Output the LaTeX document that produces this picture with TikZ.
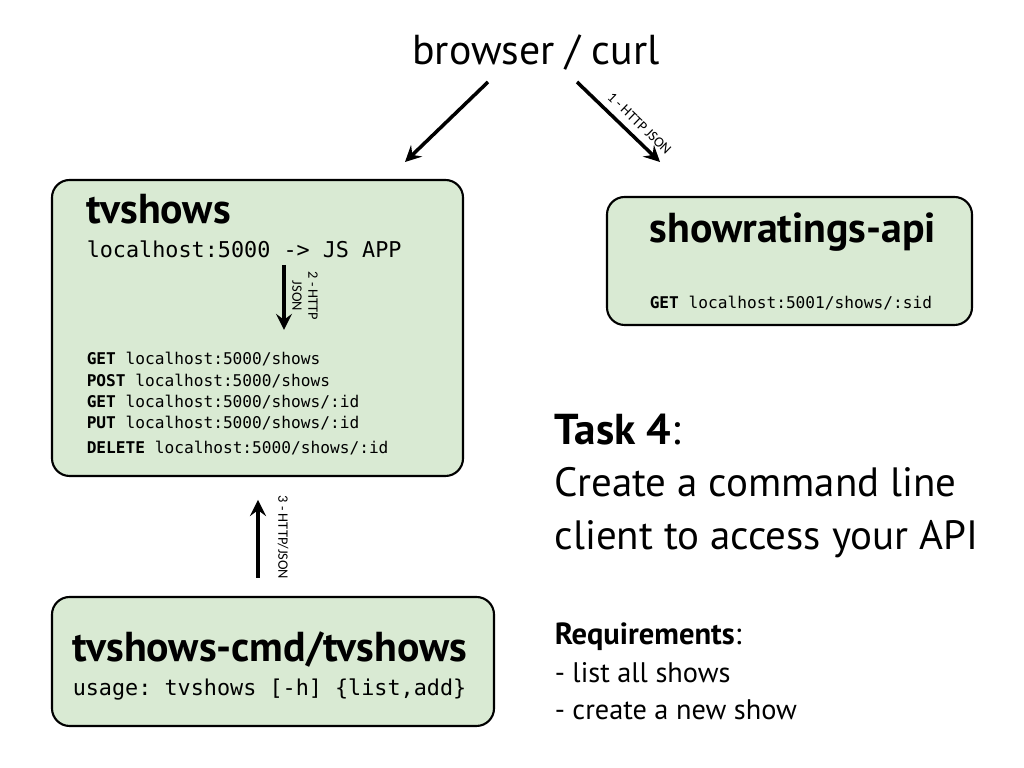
\documentclass[tikz,border=0pt]{standalone}
\usepackage{fontspec}
\setmainfont{PT Sans}
\setmonofont{DejaVu Sans Mono}
\newfontfamily\labelfont{Carlito}
\usetikzlibrary{positioning}
\definecolor{boxgreen}{HTML}{D9EAD3}

\begin{document}
\begin{tikzpicture}[>=stealth,line width=1pt,
  service/.style={draw=black,line width=0.6pt,fill=boxgreen,rounded corners=5pt,inner sep=0pt},
  title/.style={anchor=base west,inner sep=0pt,font={\fontsize{11.9}{13}\selectfont\bfseries}},
  cmd/.style={anchor=base west,inner sep=0pt,font={\fontsize{6.2}{7}\selectfont\ttfamily}},
  route/.style={anchor=base west,inner sep=0pt,font={\fontsize{4.6}{5.5}\selectfont\ttfamily}},
  flow/.style={->,line width=1pt},
  flowlabel/.style={inner sep=0pt,font={\fontsize{4.1}{4.6}\selectfont\labelfont},align=center},
  task/.style={anchor=base west,inner sep=0pt,font={\fontsize{11.65}{13}\selectfont}},
  req/.style={anchor=base west,inner sep=0pt,font={\fontsize{8.05}{10}\selectfont}}]
\useasboundingbox (0,0) rectangle (10.24,7.68);

% client
\node[anchor=base,inner sep=0pt,font={\fontsize{11.9}{13}\selectfont}] (browser) at (5.36,7.03) {browser / curl};

% services
\draw[service] (0.52,2.92) rectangle (4.63,5.88);
\node (tvshows) at (2.575,4.40) {};
\draw[service] (6.07,4.43) rectangle (9.72,5.71);
\node (ratings) at (7.895,5.07) {};
\draw[service] (0.52,0.42) rectangle (4.94,1.71);
\node (tvcmd) at (2.73,1.065) {};

% tvshows
\node[title] (tvtitle) at (0.85,5.44) {tvshows};
\node[cmd] (tvapp) at (0.85,5.10) {localhost:5000 -> JS APP};
\node[route] (r1) at (0.85,4.03) {\textbf{GET} localhost:5000/shows};
\node[route] (r2) at (0.85,3.81) {\textbf{POST} localhost:5000/shows};
\node[route] (r3) at (0.85,3.60) {\textbf{GET} localhost:5000/shows/:id};
\node[route] (r4) at (0.85,3.39) {\textbf{PUT} localhost:5000/shows/:id};
\node[route] (r5) at (0.85,3.14) {\textbf{DELETE} localhost:5000/shows/:id};

% showratings-api
\node[title] (ratingstitle) at (6.48,5.25) {showratings-api};
\node[route] (r6) at (6.48,4.59) {\textbf{GET} localhost:5001/shows/:sid};

% tvshows-cmd
\node[title] (cmdtitle) at (0.71,1.06) {tvshows-cmd/tvshows};
\node[cmd] (usage) at (0.71,0.72) {usage: tvshows [-h] \{list,add\}};

% arrows
\coordinate (a1s) at (4.88,6.86);
\coordinate (a1e) at (4.05,6.06);
\coordinate (a2s) at (5.77,6.86);
\coordinate (a2e) at (6.60,6.06);
\coordinate (a3s) at (2.84,5.03);
\coordinate (a3e) at (2.84,4.38);
\coordinate (a4s) at (2.58,1.90);
\coordinate (a4e) at (2.58,2.68);
\draw[flow] (a1s) -- (a1e);
\draw[flow] (a2s) -- node[flowlabel,sloped,above=2pt,pos=0.64] {1 - HTTP JSON} (a2e);
\draw[flow] (a3s) -- (a3e);
\node[flowlabel,rotate=-90] (l2) at (3.05,4.72) {2 - HTTP\\JSON};
\draw[flow] (a4s) -- (a4e);
\node[flowlabel,rotate=-90] (l3) at (2.83,2.305) {3 - HTTP/JSON};

% task text
\node[task] (task) at (5.53,3.23) {\fontsize{12.3}{13}\selectfont\textbf{Task 4}:};
\node[task] (line1) at (5.53,2.71) {Create a command line};
\node[task] (line2) at (5.53,2.18) {client to access your API};
\node[req] (reqs) at (5.53,1.23) {\fontsize{8.7}{10}\selectfont\textbf{Requirements}:};
\node[req] (req1) at (5.53,0.85) {- list all shows};
\node[req] (req2) at (5.53,0.48) {- create a new show};
\end{tikzpicture}
\end{document}
